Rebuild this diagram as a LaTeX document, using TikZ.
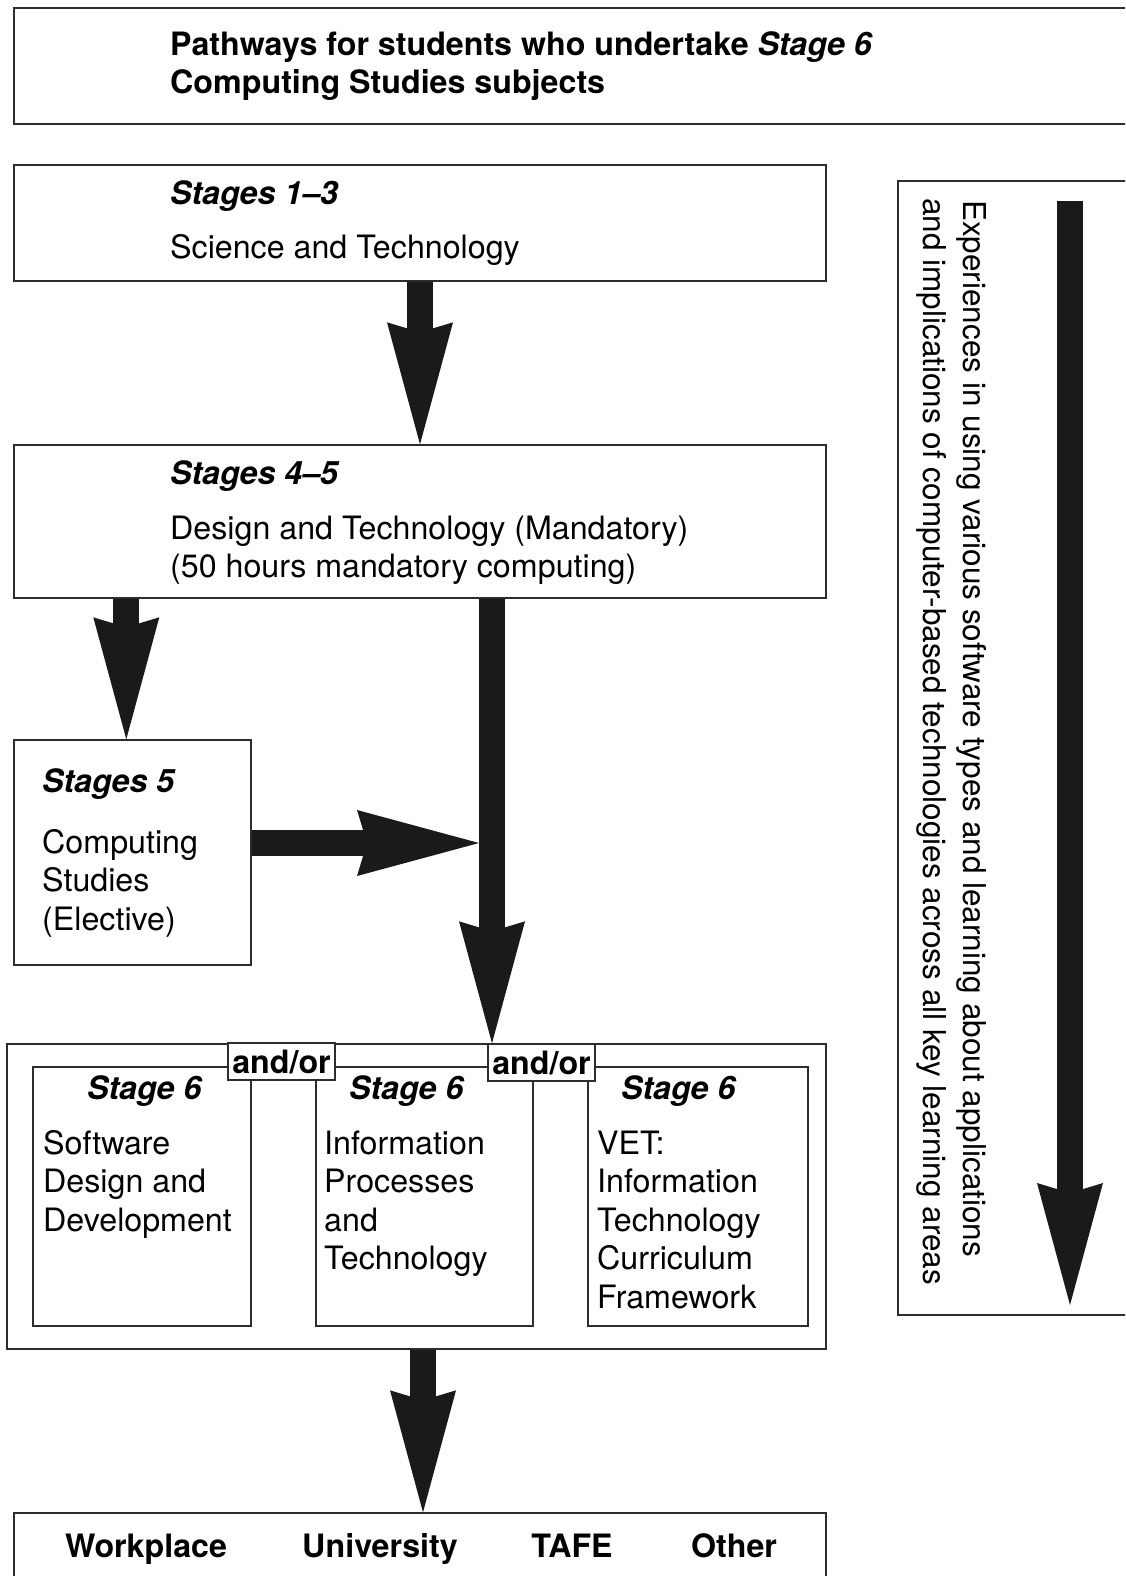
\documentclass[tikz,border=0pt]{standalone}
\usepackage{fontspec}
\setmainfont{TeX Gyre Heros}
\usetikzlibrary{arrows.meta}

\definecolor{inkgray}{RGB}{26,26,28}
\definecolor{linegray}{RGB}{45,45,45}

\def\bigfont{\fontsize{32.2}{38.5}\selectfont}
\def\sidefont{\fontsize{31.5}{38.5}\selectfont}

\tikzset{
  box/.style={draw=linegray,line width=1.4pt,fill=white,inner sep=0pt},
  txt/.style={anchor=base west,inner sep=0pt,font=\bigfont},
  hd/.style={txt,font=\bigfont\bfseries\itshape},
  bf/.style={txt,font=\bigfont\bfseries},
  fat/.style={draw=inkgray,line width=26pt,
    -{Stealth[length=122pt,width=66pt,inset=10pt,line width=0pt]}},
}

\begin{document}
\begin{tikzpicture}[x=1pt,y=-1pt]
    \useasboundingbox (0,0) rectangle (1125,1576);
    \clip (0,0) rectangle (1125,1576);

    % boxes
    \node[box,minimum width=1126pt,minimum height=116pt] (ttl) at (577,66) {};
    \node[box,minimum width=812pt,minimum height=116pt] (s13) at (420,223) {};
    \node[box,minimum width=812pt,minimum height=153pt] (s45) at (420,521.5) {};
    \node[box,minimum width=237pt,minimum height=225pt] (s5) at (132.5,852.5) {};
    \node[box,minimum width=819pt,minimum height=305pt] (s6) at (416.5,1196.5) {};
    \node[box,minimum width=218pt,minimum height=259pt] (sdd) at (142,1196.5) {};
    \node[box,minimum width=217pt,minimum height=259pt] (ipt) at (424.5,1196.5) {};
    \node[box,minimum width=220pt,minimum height=259pt] (vet) at (698,1196.5) {};
    \node[box,minimum width=107pt,minimum height=37pt,font=\bigfont\bfseries] (ao1) at (281.5,1061.5) {and/or};
    \node[box,minimum width=107pt,minimum height=37pt,font=\bigfont\bfseries] (ao2) at (541.5,1062.5) {and/or};
    \node[box,minimum width=812pt,minimum height=87pt] (dest) at (420,1556.5) {};
    \node[box,minimum width=242pt,minimum height=1134pt] (side) at (1019,748) {};

    % title
    \node[bf] (ttl1) at (170,56) {Pathways for students who undertake \textit{Stage 6}};
    \node[bf] (ttl2) at (170,94) {Computing Studies subjects};

    % stages 1-3 and 4-5
    \node[hd] (s13h) at (170,204) {Stages 1--3};
    \node[txt] (s13t) at (170,258) {Science and Technology};
    \node[hd] (s45h) at (170,484) {Stages 4--5};
    \node[txt] (s45t) at (170,539) {Design and Technology (Mandatory)};
    \node[txt] (s45u) at (170,577) {(50 hours mandatory computing)};

    % stage 5 elective
    \node[hd] (s5h) at (42,792) {Stages 5};
    \foreach \t [count=\i] in {Computing,Studies,(Elective)}
      \node[txt] (s5t\i) at (42,{853+38.5*(\i-1)}) {\t};

    % stage 6 subjects
    \node[hd] (sddh) at (87,1099) {Stage 6};
    \node[hd] (ipth) at (349,1099) {Stage 6};
    \node[hd] (veth) at (621,1099) {Stage 6};
    \foreach \t [count=\i] in {Software,Design and,Development}
      \node[txt] (sdd\i) at (43,{1154+38.5*(\i-1)}) {\t};
    \foreach \t [count=\i] in {Information,Processes,and,Technology}
      \node[txt] (ipt\i) at (324,{1154+38.5*(\i-1)}) {\t};
    \foreach \t [count=\i] in {VET:,Information,Technology,Curriculum,Framework}
      \node[txt] (vet\i) at (597,{1154+38.5*(\i-1)}) {\t};

    % destinations
    \node[bf,anchor=base] (wp) at (146,1557) {Workplace};
    \node[bf,anchor=base] (uni) at (380,1557) {University};
    \node[bf,anchor=base] (tafe) at (572,1557) {TAFE};
    \node[bf,anchor=base] (oth) at (734,1557) {Other};

    % side panel
    \node[txt,font=\sidefont,rotate=-90] (exp1) at (963,200) {Experiences in using various software types and learning about applications};
    \node[txt,font=\sidefont,rotate=-90] (exp2) at (923,198) {and implications of computer-based technologies across all key learning areas};

    % arrows
    \coordinate (mid) at (492,843);
    \coordinate (dn) at (423,1420);
    \coordinate (sidetop) at (1070,201);
    \coordinate (sidebot) at (1070,1305);
    \draw[fat] (s13.south) -- (s45.north);
    \draw[fat] ([xshift=113pt]s45.south west) -- ([xshift=113pt]s5.north west);
    \draw[fat] (s45.south -| mid) -- (s6.north -| mid);
    \draw[fat] (s5.east |- mid) -- ([xshift=-13pt]mid);
    \draw[fat] (s6.south -| dn) -- (dest.north -| dn);
    \draw[fat] (sidetop) -- (sidebot);
  \end{tikzpicture}
\end{document}
